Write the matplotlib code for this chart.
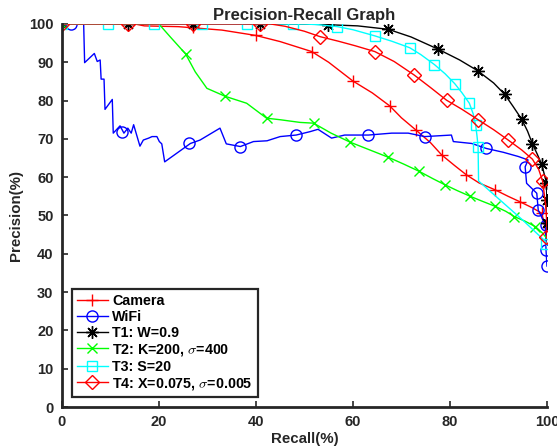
import matplotlib
matplotlib.use("Agg")
import matplotlib.pyplot as plt

plt.rcParams['font.family'] = ['Liberation Sans', 'DejaVu Sans']
plt.rcParams['font.weight'] = 'bold'
plt.rcParams['mathtext.fontset'] = 'cm'

# Camera
cam_r = [0, 15, 17, 24, 33, 40, 45, 51.5, 55, 60, 64, 67.6, 70, 73, 76, 78.3, 81, 83.4,
         86, 89.3, 92, 94.4, 97, 98.9, 99.7, 100]
cam_p = [100, 100, 99.5, 99.3, 98.4, 97.0, 95.4, 92.8, 90, 85.1, 82, 78.6, 75.5, 72.3, 69,
         65.8, 63, 60.6, 58.5, 56.7, 55, 53.6, 52, 50.6, 46.2, 43]
cam_mr = [0, 13.7, 27, 40, 51.5, 60, 67.6, 73, 78.3, 83.4, 89.3, 94.4, 98.9]
cam_mp = [100, 100, 99.1, 97.0, 92.8, 85.1, 78.6, 72.3, 65.8, 60.6, 56.7, 53.6, 50.6]

# WiFi
wifi_r = [1.9, 4.5, 4.7, 6.7, 7.3, 7.9, 8.1, 8.7, 8.9, 10.4, 10.6, 12.0, 12.8, 13.6, 14.3,
          14.8, 16.1, 16.8, 17.9, 18.6, 19.6, 20.1, 20.6, 21.2, 26.5, 28.5, 32.6, 33.9,
          36.8, 39.5, 42.3, 45.0, 48.3, 51.2, 52.8, 55.6, 58.3, 63.2, 68.0, 71.4, 74.8,
          80.3, 80.7, 84.5, 87.5, 91, 94.1, 96.1, 95.5, 95.8, 97.9, 98.2, 99.7, 99.8, 100]
wifi_p = [100, 100, 89.9, 92.3, 90.2, 90.6, 85.6, 85.6, 77.7, 80.3, 71.5, 73.4, 71.5, 72.8,
          71.5, 73.7, 68.1, 69.7, 70.2, 70.6, 70.6, 69.3, 68.7, 64.0, 68.8, 69.7, 72.8, 68.7,
          68.0, 69.3, 69.5, 70.6, 71.0, 71.9, 72.5, 70.2, 71.0, 71.0, 71.5, 71.5, 70.6,
          71.0, 69.3, 68.8, 67.5, 66.5, 65.4, 64.5, 62.7, 58.4, 55.8, 51.4, 47.5, 41.0, 36.8]
wifi_mr = [1.9, 12.3, 26.3, 36.8, 48.3, 63.2, 74.8, 87.5, 95.5, 97.9, 98.2, 99.7, 99.8, 100]
wifi_mp = [100, 71.7, 69.0, 68.0, 71.0, 71.0, 70.6, 67.5, 62.7, 55.8, 51.4, 47.5, 41.0, 36.8]

# T1
t1_r = [0, 50, 55, 61, 67.3, 72, 77.6, 82, 85.7, 89, 91.3, 93, 94.8, 96, 97, 98, 98.9,
        99.5, 99.9, 100, 100]
t1_p = [100, 100, 99.8, 99.5, 98.6, 96.6, 93.4, 90.6, 87.8, 84.6, 81.6, 78.5, 75.1, 72,
        68.7, 66, 63.4, 60.5, 58.5, 52, 45]
t1_mr = [0, 13.7, 27.1, 40.9, 54.8, 67.3, 77.6, 85.7, 91.3, 94.8, 97.0, 98.9, 99.9, 100, 100]
t1_mp = [100, 100, 100, 100, 99.8, 98.6, 93.4, 87.8, 81.6, 75.1, 68.7, 63.4, 58.5, 54, 48]

# T2
t2_r = [0, 20, 22.3, 25.5, 27.5, 29.9, 33.7, 38.1, 42.2, 45, 49.1, 51.9, 55.5, 59.5, 63.5,
        67.3, 70.5, 73.7, 76.5, 79.0, 81.5, 84.2, 86.5, 89.3, 91.5, 93.3, 95.5, 97.6, 99, 100]
t2_p = [100, 100, 96.7, 92.2, 87.5, 83.2, 81.1, 79.3, 75.4, 75.0, 74.3, 74.1, 71.5, 69.1,
        67.1, 65.2, 63.4, 61.5, 59.6, 58.0, 56.5, 55.0, 53.8, 52.4, 51.1, 49.7, 48.5, 47.1,
        45.5, 44]
t2_mr = [0, 25.5, 33.7, 42.2, 51.9, 59.5, 67.3, 73.7, 79.0, 84.2, 89.3, 93.3, 97.6]
t2_mp = [100, 92.2, 81.1, 75.4, 74.1, 69.1, 65.2, 61.5, 58.0, 55.0, 52.4, 49.7, 47.1]

# T3
t3_r = [0, 50, 53, 56.8, 60, 64.5, 68, 71.7, 74, 76.8, 79, 81, 82.5, 84.0, 84.8, 85.3,
        85.6, 85.8, 85.9, 90, 95, 99.7, 100]
t3_p = [100, 100, 99.8, 99.3, 98.5, 96.9, 95.5, 93.8, 92, 89.4, 87, 84.4, 82, 79.3, 76.5,
        73.6, 70.5, 68.0, 59.0, 54.4, 48.8, 43.2, 42]
t3_mr = [0, 9.6, 19.1, 28.9, 38.1, 47.7, 56.8, 64.5, 71.7, 76.8, 81.0, 84.0, 85.3, 85.8, 99.8]
t3_mp = [100, 100, 100, 100, 100, 100, 99.3, 96.9, 93.8, 89.4, 84.4, 79.3, 73.6, 68.0, 42.5]

# T4
t4_r = [0, 43, 46, 50, 53.2, 57, 60.5, 64.5, 68.5, 72.6, 76, 79.3, 82.5, 85.8, 89, 92.0,
        94.8, 97.0, 98.3, 99.1, 99.7, 100, 100]
t4_p = [100, 100, 99.4, 98.1, 96.7, 95.5, 94.3, 92.8, 90.2, 86.7, 83.4, 80.1, 77.7, 75.0,
        72.4, 69.7, 67.1, 64.7, 62, 59, 53, 47.5, 44]
t4_mr = [0, 13.7, 27.1, 40.9, 53.2, 64.5, 72.6, 79.3, 85.8, 92.0, 97.0, 99.1, 99.9]
t4_mp = [100, 100, 100, 100, 96.7, 92.8, 86.7, 80.1, 75.0, 69.7, 64.7, 59, 44.5]

series = [
    ("Camera", cam_r, cam_p, cam_mr, cam_mp, "#ff0000", "+", 9),
    ("WiFi", wifi_r, wifi_p, wifi_mr, wifi_mp, "#0000ff", "o", 8),
    ("T1: W=0.9", t1_r, t1_p, t1_mr, t1_mp, "#000000", (8, 2, 0), 9),
    (r"T2: K=200, $\sigma$=400", t2_r, t2_p, t2_mr, t2_mp, "#00ff00", "x", 7),
    ("T3: S=20", t3_r, t3_p, t3_mr, t3_mp, "#00ffff", "s", 7),
    (r"T4: X=0.075, $\sigma$=0.005", t4_r, t4_p, t4_mr, t4_mp, "#ff0000", "D", 7),
]

fig = plt.figure(figsize=(5.57, 4.48), dpi=100)
ax = fig.add_axes([0.111, 0.0915, 0.871, 0.855])

handles = []
for label, r, p, mr, mp, color, marker, ms in series:
    ax.plot(r, p, color=color, linewidth=1.0)
    ax.plot(mr, mp, linestyle="none", marker=marker, markersize=ms,
            markerfacecolor="none", markeredgecolor=color, markeredgewidth=1.0)
    h, = ax.plot([], [], color=color, linewidth=1.0, marker=marker, markersize=ms,
                 markerfacecolor="none", markeredgecolor=color, label=label)
    handles.append(h)

ax.set_xlim(0, 100)
ax.set_ylim(0, 100)
ax.set_xticks(range(0, 101, 20))
ax.set_yticks(range(0, 101, 10))
ax.spines["top"].set_visible(False)
ax.spines["right"].set_visible(False)
for s in ["left", "bottom"]:
    ax.spines[s].set_linewidth(2.0)
    ax.spines[s].set_color("#262626")
ax.tick_params(direction="in", length=4, width=1.2, colors="#262626", labelsize=10.5, pad=6)
for t in ax.get_xticklabels() + ax.get_yticklabels():
    t.set_fontweight("bold")

ax.set_title("Precision-Recall Graph", fontsize=12, fontweight="bold", color="#262626", pad=3)
ax.set_xlabel("Recall(%)", fontsize=10.8, fontweight="bold", color="#262626", labelpad=2)
ax.set_ylabel("Precision(%)", fontsize=10.8, fontweight="bold", color="#262626", labelpad=4)

leg = ax.legend(handles=handles, loc="lower left", bbox_to_anchor=(0.02, 0.027),
                borderaxespad=0, fancybox=False, edgecolor="#262626", framealpha=1,
                handlelength=2.2, handletextpad=0.3, labelspacing=0.13,
                borderpad=0.35, prop={"weight": "bold", "size": 10.3})
leg.get_frame().set_linewidth(1.6)

fig.savefig("out.png", dpi=100)
